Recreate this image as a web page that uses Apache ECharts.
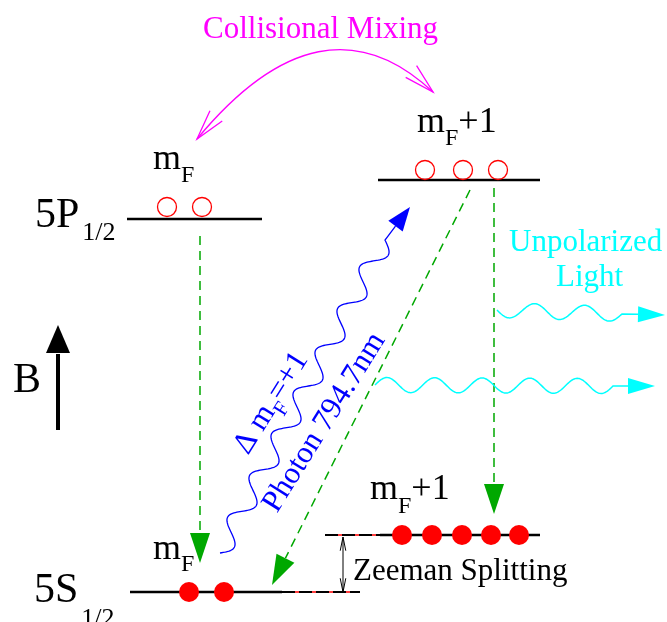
<!DOCTYPE html>
<html>
<head>
<meta charset="utf-8">
<title>Optical pumping, 5S1/2 - 5P1/2</title>
<script src="https://cdn.jsdelivr.net/npm/echarts@6/dist/echarts.min.js"></script>
<style>
html, body { margin: 0; padding: 0; background: #fff; }
#main { width: 667px; height: 622px; }
</style>
</head>
<body>
<div id="main"></div>
<script type="text/javascript">
// ---- diagram data (drawing units = pixels of the original figure, y downwards) ----
// energy levels: [x start, y, x end]
var levels = [
	[127, 219, 262],   // 5P1/2 mF
	[378, 180, 540],   // 5P1/2 mF+1
	[130, 592, 282],   // 5S1/2 mF
	[380, 535, 540]    // 5S1/2 mF+1
];
// dashed guides showing the Zeeman gap: [x start, y, x end]
var levelGuides = [
	[282, 592, 360],
	[325, 535, 380]
];
// atoms
var emptyAtoms = [[167, 207], [202, 207], [425, 170], [463, 170], [498, 170]];
var fullAtoms = [[189, 592], [224, 592], [402, 535], [432, 535], [462, 535], [491, 535], [519, 535]];
// spontaneous decay (dashed arrows): [x from, y from, x tip, y tip]
var decays = [
	[200, 236, 200, 563],
	[470, 190, 272, 585],
	[494, 188, 494, 514]
];
// photons: [wave start x, y, wave end x, y, arrow tip x, y, periods, first swing]
var absorbedPhoton = [[220, 553, 385, 240, 410, 207, 7.5, 1]];
var emittedPhotons = [
	[497, 310, 622, 314, 665, 315, 2.5, 1],
	[375, 385, 613, 386, 655, 386, 5, -1]
];
// collisional mixing arc: [x1, y1, control x, control y, x2, y2]
var mixingArc = [[197, 139, 322, -12, 433, 92]];
// Zeeman splitting double arrow and magnetic field arrow: [x1, y1, x2, y2]
var zeemanArrow = [[343, 537, 343, 592]];
var fieldArrow = [[58, 430, 58, 325]];

// term labels: [x, baseline, subscript baseline, text, subscript]
var termLabels = [
	[35, 230, 242, '5P', '1/2'],
	[34, 605, 628, '5S', '1/2']
];
// magnetic sublevel labels: [x, baseline, subscript baseline, text, subscript, tail]
var mfLabels = [
	[153, 172, 184, 'm', 'F', ''],
	[417, 135, 147, 'm', 'F', '+1'],
	[153, 562, 573, 'm', 'F', ''],
	[370, 502, 515, 'm', 'F', '+1']
];
// plain captions: [x, baseline, text]
var mixingCaption = [[203, 40, 'Collisional Mixing']];
var lightCaption = [[509, 253, 'Unpolarized'], [556, 288, 'Light']];
var zeemanCaption = [[353, 582, 'Zeeman Splitting']];
var fieldCaption = [[13, 395, 'B']];
// rotated photon labels: [x, baseline, angle deg, text, subscript, tail]
var photonLabels = [
	[250, 457, 58, '\u0394 m', 'F', '=+1'],
	[279, 515, 58, 'Photon 794.7nm', '', '']
];

// ---- helpers ----
var serif = '"Liberation Serif", "Times New Roman", serif';
var GREEN = '#00a800', BLUE = '#0000ff', CYAN = '#00ffff', MAGENTA = '#ff00ff', RED = '#ff0000';
var measureCtx = document.createElement('canvas').getContext('2d');
function textWidth(t, size) {
	measureCtx.font = size + 'px ' + serif;
	return measureCtx.measureText(t).width;
}
function textEl(x, base, str, size, color) {
	return {
		type : 'text',
		style : {
			x : x, y : base - 0.34 * size, text : str, fill : color,
			fontSize : size, fontFamily : serif, align : 'left', verticalAlign : 'middle'
		}
	};
}
// main text + subscript + tail
function compound(x, base, subBase, main, sub, tail, big, small, gap, color) {
	var els = [textEl(x, base, main, big, color)];
	var cx = x + textWidth(main, big) + gap;
	if (sub) {
		els.push(textEl(cx, subBase, sub, small, color));
		cx += textWidth(sub, small);
	}
	if (tail) els.push(textEl(cx, base, tail, big, color));
	return els;
}
function unit(a, b) {
	var dx = b[0] - a[0], dy = b[1] - a[1], d = Math.sqrt(dx * dx + dy * dy);
	return [dx / d, dy / d];
}
// filled triangular head, returns [polygon, base point]
function solidHead(tip, from, len, half, color) {
	var u = unit(from, tip);
	var bx = tip[0] - u[0] * len, by = tip[1] - u[1] * len;
	return [{
		type : 'polygon',
		shape : { points : [tip, [bx - u[1] * half, by + u[0] * half], [bx + u[1] * half, by - u[0] * half]] },
		style : { fill : color }
	}, [bx, by]];
}
// open V head; back = unit vector pointing from tip back along the line
function openHead(tip, back, len, ang, color, w) {
	var c = Math.cos(ang), s = Math.sin(ang);
	var a1 = [back[0] * c - back[1] * s, back[0] * s + back[1] * c];
	var a2 = [back[0] * c + back[1] * s, -back[0] * s + back[1] * c];
	return {
		type : 'polyline',
		shape : { points : [[tip[0] + a1[0] * len, tip[1] + a1[1] * len], tip, [tip[0] + a2[0] * len, tip[1] + a2[1] * len]] },
		style : { stroke : color, lineWidth : w, fill : null }
	};
}
function waveRender(list, color, amp, width, headLen, headHalf) {
	return function(params, api) {
		var p = list[params.dataIndex];
		var a = api.coord([p[0], p[1]]), b = api.coord([p[2], p[3]]), tip = api.coord([p[4], p[5]]);
		var dx = b[0] - a[0], dy = b[1] - a[1], len = Math.sqrt(dx * dx + dy * dy);
		var nx = -dy / len, ny = dx / len;
		var pts = [], steps = Math.ceil(len);
		for (var k = 0; k <= steps; k++) {
			var t = k / steps;
			var o = p[7] * amp * Math.sin(2 * Math.PI * p[6] * t);
			pts.push([a[0] + dx * t + nx * o, a[1] + dy * t + ny * o]);
		}
		var head = solidHead(tip, b, headLen, headHalf, color);
		pts.push(head[1]);
		return {
			type : 'group',
			children : [{
				type : 'polyline',
				shape : { points : pts },
				style : { stroke : color, lineWidth : width, fill : null }
			}, head[0]]
		};
	};
}
function labelSeries(list, build) {
	return {
		type : 'custom',
		z : 10,
		silent : true,
		data : list.map(function(l) { return [l[0], l[1]]; }),
		renderItem : function(params, api) {
			var l = list[params.dataIndex];
			return { type : 'group', children : build(l, api) };
		}
	};
}
function captionSeries(list, size, color) {
	return labelSeries(list, function(l, api) {
		var p = api.coord([l[0], l[1]]);
		return [textEl(p[0], p[1], l[2], size, color)];
	});
}

var myChart = echarts.init(document.getElementById('main'));
var option = {
	animation : false,
	grid : { left : 0, right : 0, top : 0, bottom : 0 },
	xAxis : { type : 'value', min : 0, max : 667, show : false },
	yAxis : { type : 'value', min : 0, max : 622, inverse : true, show : false },
	series : [ {
		// level guides: red line under black dashes
		type : 'custom',
		z : 2,
		data : levelGuides,
		renderItem : function(params, api) {
			var a = api.coord([api.value(0), api.value(1)]);
			var b = api.coord([api.value(2), api.value(1)]);
			return {
				type : 'group',
				children : [{
					type : 'line', shape : { x1 : a[0], y1 : a[1], x2 : b[0], y2 : b[1] },
					style : { stroke : RED, lineWidth : 1.5 }
				}, {
					type : 'line', shape : { x1 : a[0], y1 : a[1], x2 : b[0], y2 : b[1] },
					style : { stroke : '#000', lineWidth : 2, lineDash : [13, 4] }
				}]
			};
		}
	}, {
		type : 'custom',
		z : 3,
		data : levels,
		renderItem : function(params, api) {
			var a = api.coord([api.value(0), api.value(1)]);
			var b = api.coord([api.value(2), api.value(1)]);
			return {
				type : 'line', shape : { x1 : a[0], y1 : a[1], x2 : b[0], y2 : b[1] },
				style : { stroke : '#000', lineWidth : 2.5 }
			};
		}
	}, {
		type : 'scatter',
		z : 5,
		data : emptyAtoms,
		symbol : 'circle',
		symbolSize : 19,
		itemStyle : { color : 'rgba(0,0,0,0)', borderColor : RED, borderWidth : 1.3, opacity : 1 }
	}, {
		type : 'scatter',
		z : 5,
		data : fullAtoms,
		symbol : 'circle',
		symbolSize : 20,
		itemStyle : { color : RED, opacity : 1 }
	}, {
		// decays
		type : 'custom',
		z : 4,
		data : decays,
		renderItem : function(params, api) {
			var a = api.coord([api.value(0), api.value(1)]);
			var tip = api.coord([api.value(2), api.value(3)]);
			var head = solidHead(tip, a, 30, 10, GREEN);
			return {
				type : 'group',
				children : [{
					type : 'line', shape : { x1 : a[0], y1 : a[1], x2 : head[1][0], y2 : head[1][1] },
					style : { stroke : GREEN, lineWidth : 1.5, lineDash : [9, 6] }
				}, head[0]]
			};
		}
	}, {
		type : 'custom',
		z : 4,
		data : absorbedPhoton.map(function(p) { return p.slice(0, 6); }),
		renderItem : waveRender(absorbedPhoton, BLUE, 10, 1.3, 24, 9)
	}, {
		type : 'custom',
		z : 4,
		data : emittedPhotons.map(function(p) { return p.slice(0, 6); }),
		renderItem : waveRender(emittedPhotons, CYAN, 7.5, 1.5, 27, 8)
	}, {
		// collisional mixing arc
		type : 'custom',
		z : 4,
		data : mixingArc,
		renderItem : function(params, api) {
			var p0 = api.coord([api.value(0), api.value(1)]);
			var c = api.coord([api.value(2), api.value(3)]);
			var p1 = api.coord([api.value(4), api.value(5)]);
			return {
				type : 'group',
				children : [{
					type : 'bezierCurve',
					shape : { x1 : p0[0], y1 : p0[1], cpx1 : c[0], cpy1 : c[1], x2 : p1[0], y2 : p1[1] },
					style : { stroke : MAGENTA, lineWidth : 1.3, fill : null }
				}, openHead(p0, unit(p0, c), 31, 0.26, MAGENTA, 1.3),
				   openHead(p1, unit(p1, c), 31, 0.26, MAGENTA, 1.3)]
			};
		}
	}, {
		// Zeeman double arrow
		type : 'custom',
		z : 4,
		data : zeemanArrow,
		renderItem : function(params, api) {
			var a = api.coord([api.value(0), api.value(1)]);
			var b = api.coord([api.value(2), api.value(3)]);
			return {
				type : 'group',
				children : [{
					type : 'line', shape : { x1 : a[0], y1 : a[1], x2 : b[0], y2 : b[1] },
					style : { stroke : '#000', lineWidth : 1 }
				}, openHead(a, unit(a, b), 14, 0.2, '#000', 1),
				   openHead(b, unit(b, a), 14, 0.2, '#000', 1)]
			};
		}
	}, {
		// magnetic field arrow
		type : 'custom',
		z : 4,
		data : fieldArrow,
		renderItem : function(params, api) {
			var a = api.coord([api.value(0), api.value(1)]);
			var tip = api.coord([api.value(2), api.value(3)]);
			var head = solidHead(tip, a, 28, 12, '#000');
			return {
				type : 'group',
				children : [{
					type : 'line', shape : { x1 : a[0], y1 : a[1], x2 : head[1][0], y2 : head[1][1] + 1 },
					style : { stroke : '#000', lineWidth : 4 }
				}, head[0]]
			};
		}
	},
	labelSeries(termLabels, function(l, api) {
		var p = api.coord([l[0], l[1]]);
		var s = api.coord([l[0], l[2]]);
		return compound(p[0], p[1], s[1], l[3], l[4], '', 42, 26, 3, '#000');
	}),
	labelSeries(mfLabels, function(l, api) {
		var p = api.coord([l[0], l[1]]);
		var s = api.coord([l[0], l[2]]);
		return compound(p[0], p[1], s[1], l[3], l[4], l[5], 36, 24, 0, '#000');
	}),
	captionSeries(mixingCaption, 31, MAGENTA),
	captionSeries(lightCaption, 31, CYAN),
	captionSeries(zeemanCaption, 31, '#000'),
	captionSeries(fieldCaption, 42, '#000'),
	labelSeries(photonLabels, function(l, api) {
		var p = api.coord([l[0], l[1]]);
		return [{
			type : 'group',
			x : p[0], y : p[1],
			rotation : l[2] * Math.PI / 180,
			children : compound(0, 0, 9, l[3], l[4], l[5], 31, 21, 0, BLUE)
		}];
	}) ]
};
myChart.setOption(option);
</script>
</body>
</html>
